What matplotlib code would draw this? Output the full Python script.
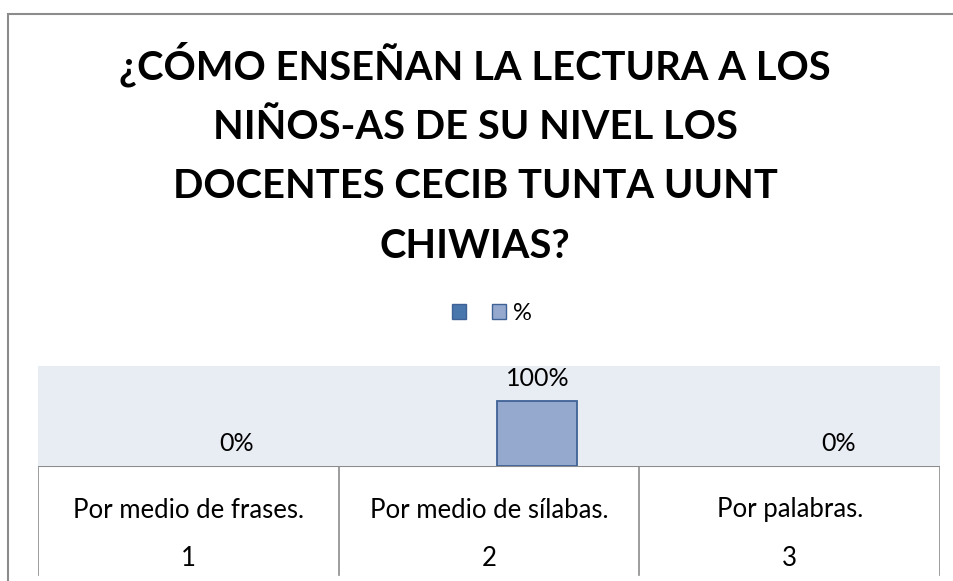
import matplotlib
matplotlib.use("Agg")
import matplotlib.pyplot as plt
from matplotlib.patches import Patch, Rectangle

title = "¿CÓMO ENSEÑAN LA LECTURA A LOS\nNIÑOS-AS DE SU NIVEL LOS\nDOCENTES CECIB TUNTA UUNT\nCHIWIAS?"
categories = ["Por medio de frases.", "Por medio de sílabas.", "Por palabras."]
codes = ["1", "2", "3"]
series_names = ["", "%"]
pct = [0.0, 1.0, 0.0]

W, H = 954, 581
plt.rcParams['font.family'] = ['Lato', 'DejaVu Sans']

fig = plt.figure(figsize=(W / 100, H / 100), dpi=100)

def fx(px):
    return px / W

def fy(py):
    return 1 - py / H

# chart border (cut off at right/bottom like the screenshot)
fig.patches.append(Rectangle((fx(8.5), -0.05), 1.2, fy(13.5) + 0.05,
                             transform=fig.transFigure, fill=False,
                             edgecolor="#8c8c8c", linewidth=1.5))

fig.text(fx(475), fy(153), title, ha="center", va="center",
         fontsize=28.7, fontweight="bold", linespacing=1.74)

# plot area
ax = fig.add_axes([fx(38), fy(466), fx(940) - fx(38), fy(366) - fy(466)])
ax.set_facecolor("#e8ecf3")
x = list(range(1, len(categories) + 1))
off, bw = 0.161, 0.266
lw = [1.3 if v > 0 else 0 for v in pct]
bars = ax.bar([i + off for i in x], pct, width=bw, color="#95a9cf",
              edgecolor="#3f6296", linewidth=lw, zorder=2)
for b, v in zip(bars, pct):
    ax.annotate(f"{v:.0%}", (b.get_x() + b.get_width() / 2, v),
                xytext=(0, 8), textcoords="offset points",
                ha="center", va="bottom", fontsize=18)
ax.set_xlim(0.5, len(categories) + 0.5)
ax.set_ylim(0, 1.54)
ax.set_xticks([])
ax.set_yticks([])
for s in ax.spines.values():
    s.set_visible(False)

# data table under the axis
tb = fig.add_axes([fx(38), 0, fx(940) - fx(38), fy(466)])
tb.set_xlim(0.5, len(categories) + 0.5)
tb.set_ylim(0, 1)
tb.axis("off")
tb.axhline(1, color="#8c8c8c", linewidth=1.5)
ybot = 1 - (575 - 466) / (581 - 466)
for b in [i + 0.5 for i in range(len(categories) + 1)]:
    tb.plot([b, b], [ybot, 1], color="#8c8c8c", linewidth=1.2)
for i, (c, k) in enumerate(zip(categories, codes)):
    tb.text(i + 1, 1 - (510 - 466) / (581 - 466), c, ha="center", va="center", fontsize=18.5)
    tb.text(i + 1, 1 - (559 - 466) / (581 - 466), k, ha="center", va="center", fontsize=18.5)

handles = [Patch(facecolor="#4a76ae", edgecolor="#3f6296"),
           Patch(facecolor="#95a9cf", edgecolor="#3f6296")]
fig.legend(handles, series_names, loc="center", bbox_to_anchor=(fx(492), fy(313)),
           ncol=2, frameon=False, fontsize=17, handlelength=0.6, handleheight=0.6,
           handletextpad=0.3, columnspacing=0.8)

fig.savefig("out.png", dpi=100)
